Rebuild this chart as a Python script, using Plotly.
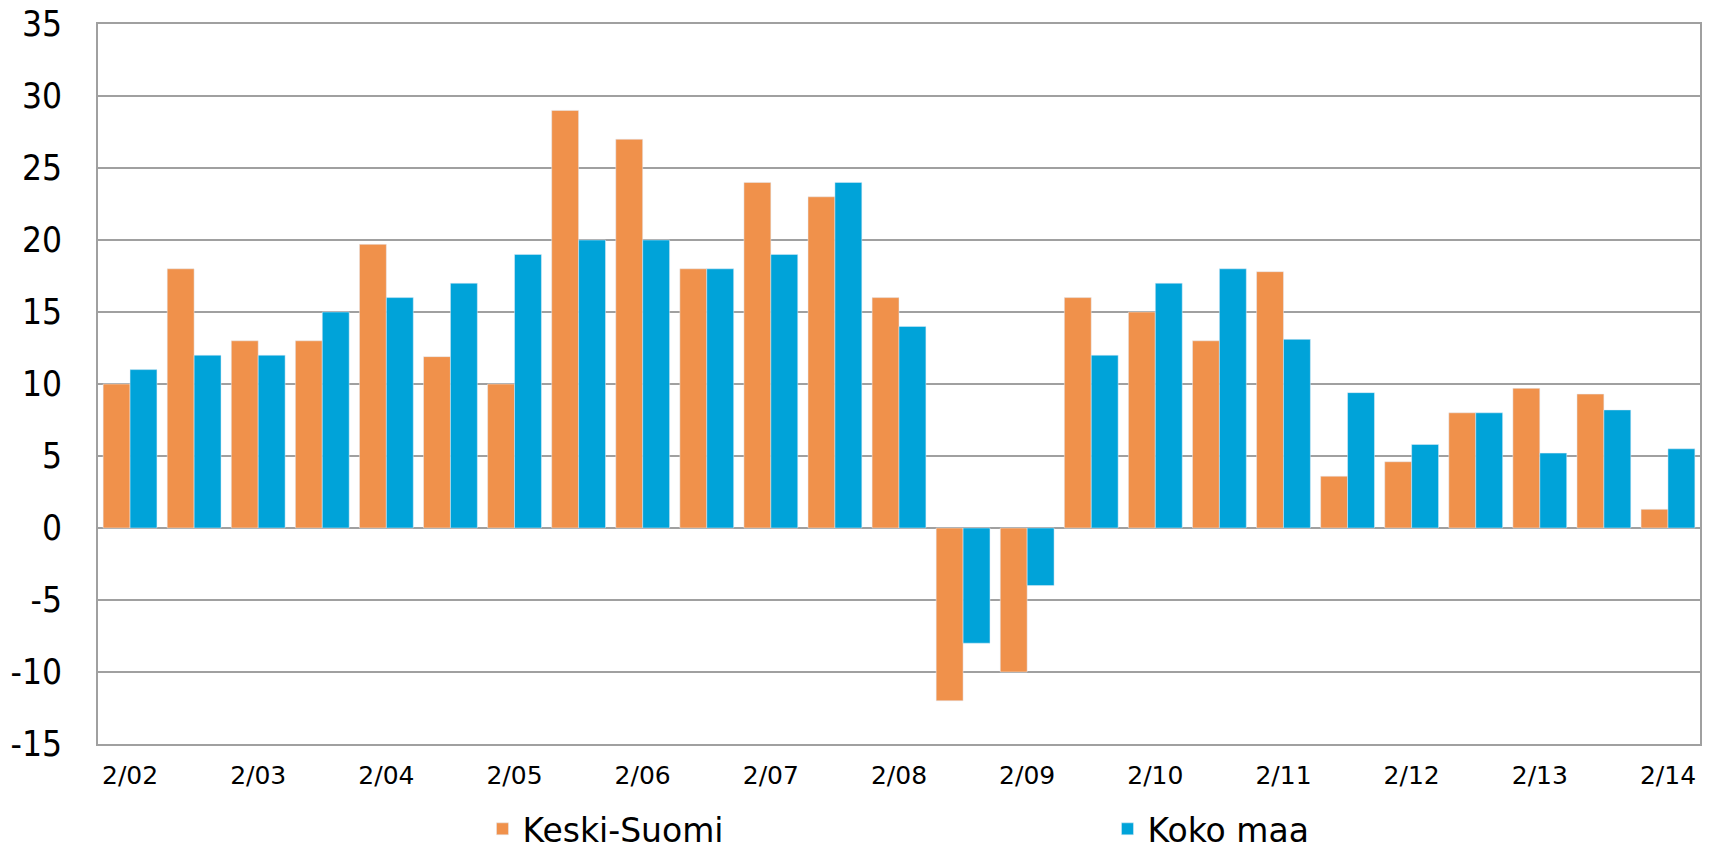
import plotly.graph_objects as go

periods = ["2/02", "8/02", "2/03", "8/03", "2/04", "8/04", "2/05", "8/05", "2/06", "8/06",
           "2/07", "8/07", "2/08", "8/08", "2/09", "8/09", "2/10", "8/10", "2/11", "8/11",
           "2/12", "8/12", "2/13", "8/13", "2/14"]
keski_suomi = [10, 18, 13, 13, 19.7, 11.9, 10, 29, 27, 18,
               24, 23, 16, -12, -10, 16, 15, 13, 17.8, 3.6,
               4.6, 8, 9.7, 9.3, 1.3]
koko_maa = [11, 12, 12, 15, 16, 17, 19, 20, 20, 18,
            19, 24, 14, -8, -4, 12, 17, 18, 13.1, 9.4,
            5.8, 8, 5.2, 8.2, 5.5]
tick_labels = periods[::2]
y_ticks = list(range(-15, 40, 5))

fig = go.Figure()
fig.add_trace(go.Bar(x=periods, y=keski_suomi, name="Keski-Suomi", marker_color="#F0914B"))
fig.add_trace(go.Bar(x=periods, y=koko_maa, name="Koko maa", marker_color="#00A3D9"))

# page body has an 8px margin, so the figure is drawn 8px smaller and offset
fig.update_layout(
    width=1704, height=841,
    margin=dict(l=90, r=12, t=16, b=105, autoexpand=False),
    plot_bgcolor="white", paper_bgcolor="white",
    barmode="group", bargap=0.16, bargroupgap=0,
    font=dict(family="DejaVu Sans", color="black"),
    legend=dict(orientation="h", x=0.24, y=-0.079, xanchor="left", yanchor="top",
                font=dict(size=33), entrywidth=580, entrywidthmode="pixels",
                itemwidth=30),
)
fig.update_xaxes(
    tickmode="array", tickvals=tick_labels, ticktext=tick_labels,
    tickfont=dict(size=25), ticklabelstandoff=8,
    showline=True, linecolor="#a0a0a0", linewidth=2, mirror=True,
    ticks="", showgrid=False,
)
fig.update_yaxes(
    range=[-15, 35], tickmode="array", tickvals=y_ticks,
    ticktext=[str(v) for v in y_ticks],
    tickfont=dict(size=35, family="DejaVu Sans Condensed"),
    ticklabelstandoff=27, ticklabeloverflow="allow",
    showline=True, linecolor="#a0a0a0", linewidth=2, mirror=True,
    gridcolor="#a0a0a0", gridwidth=1.5,
    zeroline=True, zerolinecolor="#a0a0a0", zerolinewidth=2,
    ticks="",
)

fig.write_html("out.html")
